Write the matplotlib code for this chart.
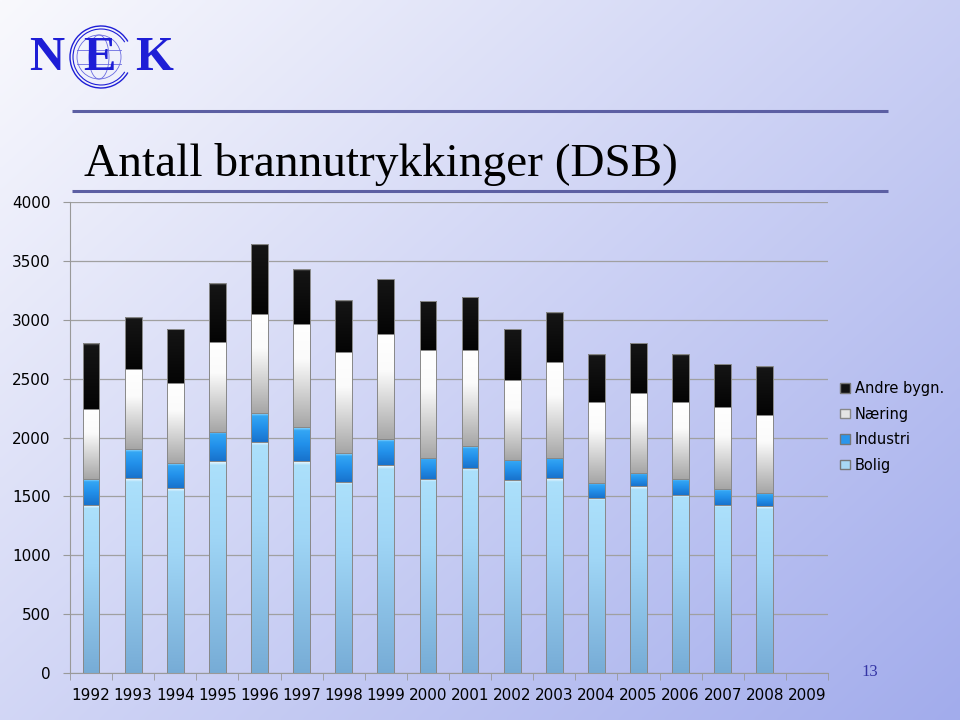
import matplotlib.pyplot as plt
import numpy as np
from matplotlib.colors import to_rgb
from matplotlib.patches import Patch, Circle, Arc, Ellipse

# data (number of fire call-outs, DSB)
years = [str(y) for y in range(1992, 2010)]
bolig = [1425, 1655, 1570, 1800, 1965, 1800, 1625, 1765, 1650, 1745, 1640, 1655, 1490, 1585, 1515, 1430, 1415]
industri = [220, 245, 210, 250, 245, 285, 240, 220, 180, 185, 170, 175, 120, 110, 130, 130, 110]
naering = [600, 685, 680, 765, 840, 880, 865, 890, 910, 810, 675, 815, 695, 680, 660, 695, 670]
andre = [560, 435, 465, 500, 595, 465, 440, 470, 420, 455, 435, 420, 405, 430, 405, 370, 415]
yticks = [0, 500, 1000, 1500, 2000, 2500, 3000, 3500, 4000]


def ramp(stops, n=128):
    #build a vertical colour ramp, row 0 = top of the bar
    pos = np.linspace(0, 1, n)
    ps = [p for p, c in stops]
    cols = np.array([to_rgb(c) for p, c in stops])
    out = np.stack([np.interp(pos, ps, cols[:, k]) for k in range(3)], axis=-1)
    return out[:, None, :]


fig = plt.figure(figsize=(9.6, 7.2), dpi=100)

#Background slide in pixel coordinates
bg = fig.add_axes([0, 0, 1, 1], zorder=0)
xx, yy = np.meshgrid(np.linspace(0, 1, 240), np.linspace(0, 1, 180))
t = 0.55 * xx + 0.45 * yy
c0 = np.array(to_rgb('#f9f9fd'))
c1 = np.array(to_rgb('#a2acec'))
bg.imshow(c0 + t[..., None] * (c1 - c0), extent=(0, 960, 720, 0), aspect='auto', interpolation='bilinear')
bg.set_xlim(0, 960)
bg.set_ylim(720, 0)
bg.axis('off')

bg.plot([72, 888], [111, 111], color='#5c5fa3', lw=2.2, solid_capstyle='butt')
bg.plot([72, 888], [191, 191], color='#5c5fa3', lw=2.2, solid_capstyle='butt')
bg.text(84, 176, 'Antall brannutrykkinger (DSB)', fontfamily='Liberation Serif', fontsize=34,
        ha='left', va='baseline', color='black')
bg.text(870, 672, '13', fontfamily='Liberation Serif', fontsize=12, color='#3535a5', ha='center', va='center')

#NEK logo
logo = '#1e1ed6'
bg.add_patch(Arc((101, 57), 62, 62, theta1=30, theta2=330, color=logo, lw=1.0))
bg.add_patch(Arc((101, 57), 56, 56, theta1=32, theta2=328, color=logo, lw=0.8))
bg.add_patch(Circle((99, 57), 22, fill=False, ec='#6a6ae0', lw=0.6))
bg.add_patch(Ellipse((99, 57), 20, 44, fill=False, ec='#6a6ae0', lw=0.6))
bg.plot([77, 121], [50, 50], color='#6a6ae0', lw=0.6)
bg.plot([77, 121], [64, 64], color='#6a6ae0', lw=0.6)
for ch, xc in [('N', 47), ('E', 99), ('K', 154)]:
    bg.text(xc, 58, ch, fontfamily='Liberation Serif', fontweight='bold', fontsize=35,
            color=logo, ha='center', va='center')

#Chart
ax = fig.add_axes([70 / 960, 1 - 673 / 720, 758 / 960, 471 / 720], zorder=1)
ax.patch.set_alpha(0)
x = np.arange(len(bolig))
w = 0.4

segments = [
    (bolig, [(0, '#eaf8ff'), (0.015, '#ace0fb'), (0.35, '#a0d6f6'), (1, '#77acd6')]),
    (industri, [(0, '#9fe0ff'), (0.1, '#34a6f4'), (0.5, '#2290ea'), (1, '#1872cc')]),
    (naering, [(0, '#ffffff'), (0.35, '#fbfbfb'), (1, '#a6a6a6')]),
    (andre, [(0, '#6a6a6a'), (0.035, '#151515'), (1, '#040404')]),
]
bottom = np.zeros(len(bolig))
for vals, stops in segments:
    bars = ax.bar(x, vals, w, bottom=bottom, facecolor='none', edgecolor='#888888', lw=0.7, zorder=3)
    img = ramp(stops)
    for b in bars:
        x0, y0 = b.get_x(), b.get_y()
        im = ax.imshow(img, extent=(x0, x0 + b.get_width(), y0, y0 + b.get_height()),
                       aspect='auto', interpolation='bilinear', zorder=2.5)
        im.set_clip_path(b)
    bottom += np.array(vals)

ax.set_xlim(-0.5, len(years) - 0.5)
ax.set_ylim(0, 4000)
ax.set_yticks(yticks)
ax.set_xticks(np.arange(len(years)))
ax.set_xticklabels(years)
ax.set_xticks(np.arange(-0.5, len(years), 1), minor=True)
ax.tick_params(axis='x', which='major', length=0, pad=11, labelsize=11)
ax.tick_params(axis='x', which='minor', length=5, color='#999999', direction='out')
ax.tick_params(axis='y', length=5, color='#999999', pad=9, labelsize=11)
ax.yaxis.grid(True, color='#a0a0a0', lw=0.9)
ax.set_axisbelow(True)
for s in ['top', 'right']:
    ax.spines[s].set_visible(False)
for s in ['left', 'bottom']:
    ax.spines[s].set_color('#999999')

handles = [Patch(facecolor='#111111', edgecolor='#777777', label='Andre bygn.'),
           Patch(facecolor='#e4e4e4', edgecolor='#888888', label='Næring'),
           Patch(facecolor='#2a96ec', edgecolor='#777777', label='Industri'),
           Patch(facecolor='#a8d8f4', edgecolor='#777777', label='Bolig')]
fig.legend(handles=handles, loc='upper left', bbox_to_anchor=(827 / 960, 1 - 368 / 720), frameon=False,
           fontsize=10.5, handlelength=0.65, handleheight=0.65, handletextpad=0.35, labelspacing=0.72)

fig.savefig('out.png', dpi=100)
